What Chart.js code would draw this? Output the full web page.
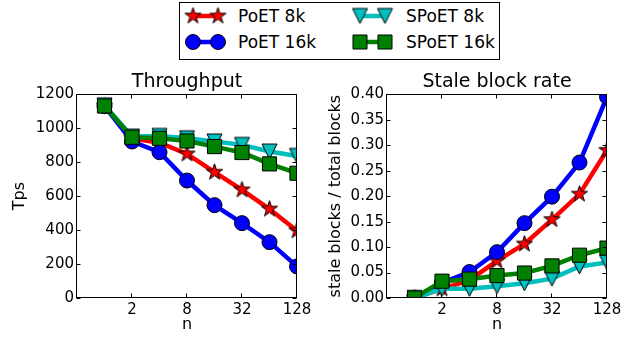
<!DOCTYPE html>
<html>
<head>
<meta charset="utf-8">
<script src="https://cdn.jsdelivr.net/npm/chart.js@4.4.1/dist/chart.umd.min.js"></script>
<style>
	html, body { margin: 0; padding: 0; background: #fff; }
	body { width: 641px; height: 339px; position: relative; overflow: hidden; font-family: 'DejaVu Sans', sans-serif; }
	#tput { position: absolute; left: 0; top: 60px; }
	#stale { position: absolute; left: 320px; top: 60px; }
	#legend { position: absolute; left: 179px; top: 2px; width: 321px; height: 58px; border: 1px solid #000; box-sizing: border-box; }
	#legend canvas { position: absolute; }
	#legend span { position: absolute; font-size: 17px; line-height: 20px; color: #000; white-space: nowrap; }
</style>
</head>
<body>
<div id="legend"></div>
<canvas id="tput" width="320" height="279"></canvas>
<canvas id="stale" width="321" height="279"></canvas>
<script>
// n = number of nodes (log2 axis)
const nValues = [1, 2, 4, 8, 16, 32, 64, 128];
const xTickValues = [2, 8, 32, 128];

const seriesNames = ['PoET 8k', 'PoET 16k', 'SPoET 8k', 'SPoET 16k'];

// throughput (Tps)
const tpsPoet8k = [1130, 940, 915, 849, 741, 637, 524, 396];
const tpsPoet16k = [1130, 922, 859, 692, 547, 441, 329, 186];
const tpsSpoet8k = [1135, 951, 955, 941, 922, 902, 863, 837];
const tpsSpoet16k = [1131, 947, 941, 925, 892, 857, 790, 735];

// stale blocks / total blocks
const stalePoet8k = [0, 0.018, 0.035, 0.073, 0.106, 0.154, 0.204, 0.29];
const stalePoet16k = [0, 0.03, 0.051, 0.09, 0.147, 0.199, 0.266, 0.395];
const staleSpoet8k = [0, 0.018, 0.018, 0.023, 0.029, 0.038, 0.062, 0.07];
const staleSpoet16k = [0, 0.033, 0.037, 0.044, 0.049, 0.063, 0.084, 0.098];

const FONT = "'DejaVu Sans', sans-serif";
const colors = ['#ff0000', '#0000ff', '#00bfbf', '#008000'];

// marker images for star and down-triangle (matplotlib '*' and 'v')
function markerImage(kind, size, fill) {
	const c = document.createElement('canvas');
	const s = size + 4;
	c.width = s; c.height = s;
	const g = c.getContext('2d');
	g.translate(s / 2, s / 2);
	g.beginPath();
	if (kind === 'star') {
		const r = size / 2;
		for (let i = 0; i < 10; i++) {
			const rad = i % 2 ? r * 0.382 : r;
			const a = -Math.PI / 2 + i * Math.PI / 5;
			g.lineTo(rad * Math.cos(a), rad * Math.sin(a));
		}
	} else {
		const h = size / 2;
		g.moveTo(0, h); g.lineTo(-h, -h); g.lineTo(h, -h);
	}
	g.closePath();
	g.fillStyle = fill;
	g.fill();
	g.lineWidth = 1;
	g.strokeStyle = '#000';
	g.stroke();
	return c;
}

const starImg = markerImage('star', 17, colors[0]);
const triImg = markerImage('tri', 15, colors[2]);

const markers = [
	{ pointStyle: starImg, pointRadius: 8 },
	{ pointStyle: 'circle', pointRadius: 7.5 },
	{ pointStyle: triImg, pointRadius: 8 },
	{ pointStyle: 'rect', pointRadius: 10 }
];

function makeDatasets(series) {
	return series.map((vals, i) => ({
		label: seriesNames[i],
		data: nValues.map((n, j) => ({ x: n, y: vals[j] })),
		borderColor: colors[i],
		backgroundColor: colors[i],
		borderWidth: 4.5,
		pointBackgroundColor: colors[i],
		pointBorderColor: '#000',
		pointBorderWidth: 1,
		pointStyle: markers[i].pointStyle,
		pointRadius: markers[i].pointRadius,
		order: 4 - i,
		clip: 0,
		tension: 0
	}));
}

// box around the plot with inward ticks on all four sides
const framePlugin = {
	id: 'frame',
	afterDatasetsDraw(chart) {
		const { ctx, chartArea: a, scales: { x, y } } = chart;
		const L = Math.round(a.left) - 0.5, R = Math.round(a.right) - 0.5,
			T = Math.round(a.top) + 0.5, B = Math.round(a.bottom) - 0.5;
		ctx.save();
		ctx.strokeStyle = '#000';
		ctx.lineWidth = 1;
		ctx.beginPath();
		x.ticks.forEach(t => {
			const px = Math.round(x.getPixelForValue(t.value)) - 0.5;
			ctx.moveTo(px, B); ctx.lineTo(px, B - 4);
			ctx.moveTo(px, T); ctx.lineTo(px, T + 4);
		});
		y.ticks.forEach(t => {
			const py = Math.round(y.getPixelForValue(t.value)) + 0.5;
			ctx.moveTo(L, py); ctx.lineTo(L + 4, py);
			ctx.moveTo(R, py); ctx.lineTo(R - 4, py);
		});
		ctx.stroke();
		ctx.strokeRect(L, T, R - L, B - T);
		ctx.restore();
	}
};

function makeChart(id, title, yLabel, series, yOpts, yWidth, padRight, yTitlePad) {
	return new Chart(document.getElementById(id), {
		type: 'line',
		data: { datasets: makeDatasets(series) },
		plugins: [framePlugin],
		options: {
			responsive: false,
			animation: false,
			devicePixelRatio: 1,
			layout: { padding: { left: 0, right: padRight, top: 0, bottom: 0 } },
			plugins: {
				legend: { display: false },
				tooltip: { enabled: false },
				title: {
					display: true,
					text: title,
					fullSize: false,
					color: '#000',
					font: { family: FONT, size: 19, weight: 'normal' },
					padding: { top: 11, bottom: 0.5 }
				}
			},
			scales: {
				x: {
					type: 'logarithmic',
					min: 0.5,
					max: 128,
					afterBuildTicks: s => { s.ticks = xTickValues.map(v => ({ value: v })); },
					afterFit: s => { s.height = 41; },
					grid: { display: false, drawTicks: false },
					border: { display: false },
					ticks: {
						color: '#000',
						font: { family: FONT, size: 15 },
						padding: 3,
						maxRotation: 0,
						autoSkip: false,
						callback: v => String(v)
					},
					title: {
						display: true,
						text: 'n',
						color: '#000',
						font: { family: FONT, size: 16 },
						padding: { top: 0, bottom: 5 }
					}
				},
				y: {
					min: yOpts.min,
					max: yOpts.max,
					afterFit: s => { s.width = yWidth; },
					grid: { display: false, drawTicks: false },
					border: { display: false },
					ticks: {
						stepSize: yOpts.step,
						color: '#000',
						font: { family: FONT, size: 15 },
						padding: 3,
						callback: yOpts.format
					},
					title: {
						display: true,
						text: yLabel,
						color: '#000',
						font: { family: FONT, size: 16 },
						padding: { top: yTitlePad, bottom: 0 }
					}
				}
			}
		}
	});
}

makeChart('tput', 'Throughput', 'Tps',
	[tpsPoet8k, tpsPoet16k, tpsSpoet8k, tpsSpoet16k],
	{ min: 0, max: 1200, step: 200, format: v => String(v) }, 77, 23, 10);

makeChart('stale', 'Stale block rate', 'stale blocks / total blocks',
	[stalePoet8k, stalePoet16k, staleSpoet8k, staleSpoet16k],
	{ min: 0, max: 0.4, step: 0.05, format: v => v.toFixed(2) }, 67, 34, 6.5);

// legend (two columns, line + two markers per entry)
const legend = document.getElementById('legend');
const legendSlots = [
	{ left: 3, top: 3, text: 58 },
	{ left: 3, top: 29, text: 58 },
	{ left: 170, top: 3, text: 226 },
	{ left: 170, top: 29, text: 226 }
];
seriesNames.forEach((name, i) => {
	const slot = legendSlots[i];
	const c = document.createElement('canvas');
	c.width = 46; c.height = 20;
	c.style.left = slot.left + 'px';
	c.style.top = slot.top + 'px';
	const g = c.getContext('2d');
	const x1 = 10, x2 = 35, cy = 10;
	g.strokeStyle = colors[i];
	g.lineWidth = 4.5;
	g.beginPath(); g.moveTo(x1, cy); g.lineTo(x2, cy); g.stroke();
	[x1, x2].forEach(px => {
		const m = markers[i].pointStyle;
		if (typeof m !== 'string') {
			g.drawImage(m, px - m.width / 2, cy - m.height / 2);
			return;
		}
		g.fillStyle = colors[i];
		g.strokeStyle = '#000';
		g.lineWidth = 1;
		g.beginPath();
		if (m === 'circle') g.arc(px, cy, 7.5, 0, Math.PI * 2);
		else g.rect(px - 7, cy - 7, 14, 14);
		g.fill(); g.stroke();
	});
	legend.appendChild(c);
	const span = document.createElement('span');
	span.textContent = name;
	span.style.left = slot.text + 'px';
	span.style.top = slot.top + 'px';
	legend.appendChild(span);
});
</script>
</body>
</html>
